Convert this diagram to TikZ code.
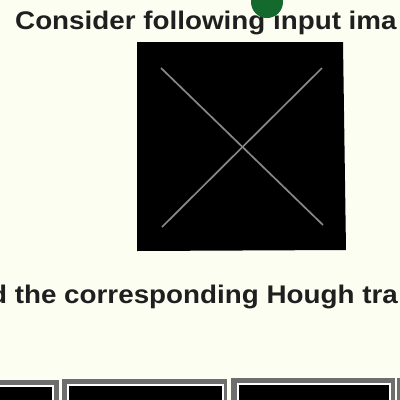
\documentclass[tikz,border=0pt]{standalone}
\usepackage{fontspec}
\setmainfont{Liberation Sans}
\definecolor{bgc}{RGB}{253,254,242}
\definecolor{dotg}{RGB}{20,105,45}
\definecolor{framegray}{RGB}{110,110,110}
\definecolor{linegray}{RGB}{135,135,135}
\tikzset{
  caption/.style={inner sep=0pt, font=\fontsize{25.5}{30}\selectfont\bfseries, text=black!88},
  frameouter/.style={fill=framegray, draw=none},
  frameinner/.style={fill=black, draw=white, line width=1.5pt},
}
\newcommand{\wide}[1]{\scalebox{1.09}[1]{#1}}
\begin{document}
\begin{tikzpicture}[x=1pt,y=-1pt]
\useasboundingbox (0,0) rectangle (400,400);
\fill[bgc] (0,0) rectangle (400,400);
% input image
\fill[black] (137,42) -- (343,42) -- (346,250) -- (137,251) -- cycle;
\coordinate (p1) at (161,68);
\coordinate (p2) at (323,225);
\coordinate (p3) at (322,68);
\coordinate (p4) at (162,227);
\draw[linegray, line width=1.7pt] (p1) -- (p2);
\draw[linegray, line width=1.7pt] (p3) -- (p4);
% captions
\node[caption, anchor=base west] (t1) at (15,29) {\wide{Consider following input ima}};
\node[caption, anchor=base east] (t2) at (398,303) {\wide{d the corresponding Hough tra}};
% green dot
\fill[dotg] (267,2) circle (16);
% bottom frames
\fill[framegray] (-5,380) rectangle (59,405);
\filldraw[frameinner] (-5,386) rectangle (53,405);
\fill[framegray] (62,379) rectangle (227,405);
\filldraw[frameinner] (68,385) rectangle (223,405);
\fill[framegray] (231,378) rectangle (395,405);
\filldraw[frameinner] (238,384) rectangle (390,405);
\fill[framegray] (397,378) rectangle (405,405);
\end{tikzpicture}
\end{document}
